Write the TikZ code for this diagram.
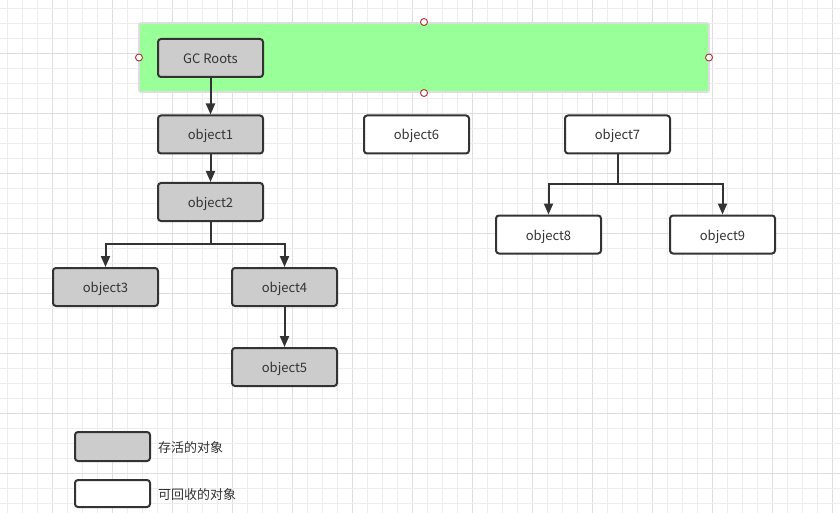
\documentclass[tikz,border=0pt]{standalone}
\usepackage{fontspec}
\setmainfont{Noto Sans CJK SC}
\usepackage{tikz}
\usetikzlibrary{arrows.meta}
\definecolor{livegray}{HTML}{CCCCCC}
\definecolor{rootgreen}{HTML}{99FF99}
\definecolor{inkgray}{HTML}{333333}
\definecolor{handlered}{HTML}{A83232}
\newcommand{\boxw}{105pt}
\newcommand{\boxh}{38pt}
\newcommand{\thickness}{2pt}
\tikzset{
  obj/.style={draw=inkgray, line width=\thickness, rounded corners=3pt, minimum width=\boxw, minimum height=\boxh, inner sep=0pt, text height=11pt, text depth=0pt, text=inkgray, font=\fontsize{13}{15}\selectfont},
  live/.style={obj, fill=livegray},
  dead/.style={obj, fill=white},
  link/.style={draw=inkgray, line width=\thickness, -{Triangle[length=11pt,width=9pt]}},
  handle/.style={circle, draw=handlered, fill=white, line width=0.9pt, minimum size=7pt, inner sep=0pt},
  legendtext/.style={anchor=west, inner sep=0pt, text height=11pt, text depth=0pt, text=inkgray, font=\fontsize{13}{15}\selectfont}
}

\begin{document}
\begin{tikzpicture}[x=1pt,y=-1pt]
\useasboundingbox (0,0) rectangle (840,513);
\fill[white] (0,0) rectangle (840,513);
%grid
\foreach \i in {0,...,55} {
  \pgfmathtruncatemacro{\m}{mod(\i,4)}
  \ifnum\m=3 \draw[black!13, line width=0.9pt] (7+15*\i,0) -- (7+15*\i,513);
  \else \draw[black!7, line width=0.9pt] (7+15*\i,0) -- (7+15*\i,513); \fi
}
\foreach \j in {0,...,34} {
  \pgfmathtruncatemacro{\m}{mod(\j,4)}
  \ifnum\m=3 \draw[black!13, line width=0.9pt] (0,8+15*\j) -- (840,8+15*\j);
  \else \draw[black!7, line width=0.9pt] (0,8+15*\j) -- (840,8+15*\j); \fi
}
%selected root area
\draw[black!13, fill=rootgreen, line width=1.8pt, rounded corners=2pt] (139,23) rectangle (709,92);
\node[handle] (h1) at (424,22) {};
\node[handle] (h2) at (139,57.5) {};
\node[handle] (h3) at (709,57.5) {};
\node[handle] (h4) at (424,93) {};
%objects
\node[live] (0) at (210.5,58) {GC Roots};
\node[live] (1) at (210.5,134.5) {object1};
\node[live] (2) at (210.5,202) {object2};
\node[live] (3) at (105.5,287) {object3};
\node[live] (4) at (284.5,287) {object4};
\node[live] (5) at (284.5,367) {object5};
\node[dead] (6) at (416.5,134.5) {object6};
\node[dead] (7) at (617.5,134.5) {object7};
\node[dead] (8) at (548.5,234.5) {object8};
\node[dead] (9) at (722.5,234.5) {object9};
%links
\coordinate (s2) at (210.5,244);
\coordinate (s7) at (617.5,184);
\draw[link] (0) -- (1);
\draw[link] (1) -- (2);
\draw[link] (2) -- (s2) -| (3);
\draw[link] (2) -- (s2) -| (4);
\draw[link] (4) -- (5);
\draw[link] (7) -- (s7) -| (8);
\draw[link] (7) -- (s7) -| (9);
%legend
\node[live, minimum width=75pt, minimum height=29pt] (a) at (112.5,446.5) {};
\node[dead, minimum width=75pt, minimum height=27pt] (b) at (112.5,493.5) {};
\node[legendtext] (at) at (158,446.5) {存活的对象};
\node[legendtext] (bt) at (158,493.5) {可回收的对象};
\end{tikzpicture}
\end{document}
